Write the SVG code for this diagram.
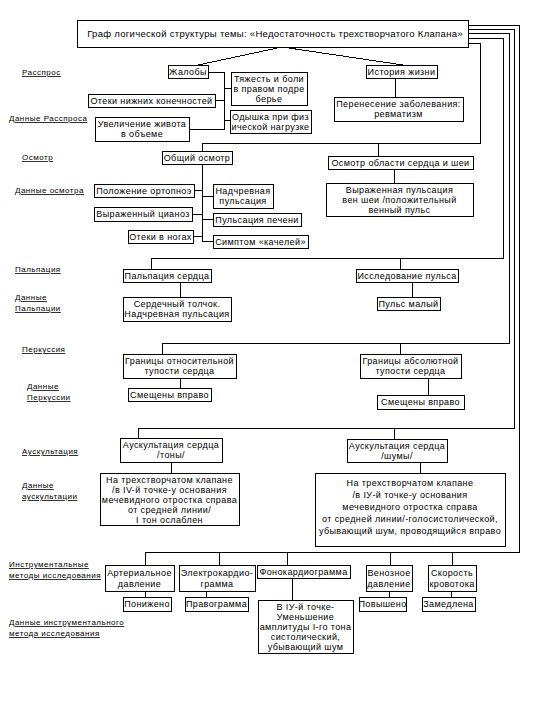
<svg xmlns="http://www.w3.org/2000/svg" width="540" height="720" viewBox="0 0 540 720">
<style>
.b{fill:#fff;stroke:#000;stroke-width:1;shape-rendering:crispEdges}
.t{font-family:"Liberation Sans",Arial,sans-serif;font-size:9px;letter-spacing:0.4px;text-anchor:middle;fill:#000}
.l{font-family:"Liberation Sans",Arial,sans-serif;font-size:8px;letter-spacing:0.5px;fill:#000;text-decoration:underline}
.c line,.c polyline{stroke:#000;stroke-width:1;fill:none;shape-rendering:crispEdges}
</style>
<rect width="540" height="720" fill="#fff"/>
<g id="labels">
<text class="l" x="22" y="75">Расспрос</text>
<text class="l" x="9" y="121">Данные Расспроса</text>
<text class="l" x="22" y="160">Осмотр</text>
<text class="l" x="15" y="193">Данные осмотра</text>
<text class="l" x="15" y="272">Пальпация</text>
<text class="l" x="15" y="300">Данные</text>
<text class="l" x="15" y="311">Пальпации</text>
<text class="l" x="22" y="352">Перкуссия</text>
<text class="l" x="27" y="389">Данные</text>
<text class="l" x="27" y="400">Перкуссии</text>
<text class="l" x="22" y="454">Аускультация</text>
<text class="l" x="22" y="488">Данные</text>
<text class="l" x="22" y="499">аускультации</text>
<text class="l" x="9" y="567">Инструментальные</text>
<text class="l" x="9" y="578">методы исследования</text>
<text class="l" x="9" y="625">Данные инструментального</text>
<text class="l" x="9" y="636">метода исследования</text>
</g>
<g class="c" id="connectors">
<polyline points="282,47 198,65"/>
<polyline points="282,47 403,65"/>
<polyline points="468,43 480,43 480,143 202,143 202,151"/>
<line x1="378" y1="143" x2="378" y2="156"/>
<polyline points="468,38 503,38 503,258 151,258 151,269"/>
<line x1="400" y1="258" x2="400" y2="269"/>
<polyline points="468,33 509,33 509,343 162,343 162,354"/>
<line x1="400" y1="343" x2="400" y2="354"/>
<polyline points="468,29 514,29 514,428 138,428 138,438"/>
<line x1="394" y1="428" x2="394" y2="439"/>
<polyline points="468,25 519,25 519,552 145,552 145,565"/>
<line x1="219" y1="552" x2="219" y2="565"/>
<line x1="287" y1="552" x2="287" y2="565"/>
<line x1="390" y1="552" x2="390" y2="565"/>
<line x1="452" y1="552" x2="452" y2="565"/>
<polyline points="208,72 224,72 224,129 189,129"/>
<line x1="224" y1="88" x2="231" y2="88"/>
<line x1="215" y1="100" x2="224" y2="100"/>
<line x1="224" y1="120" x2="230" y2="120"/>
<line x1="395" y1="78" x2="395" y2="97"/>
<line x1="394" y1="169" x2="394" y2="183"/>
<line x1="202" y1="164" x2="202" y2="241"/>
<line x1="194" y1="190" x2="202" y2="190"/>
<line x1="192" y1="214" x2="202" y2="214"/>
<line x1="193" y1="236" x2="202" y2="236"/>
<line x1="202" y1="196" x2="213" y2="196"/>
<line x1="202" y1="219" x2="213" y2="219"/>
<line x1="202" y1="241" x2="213" y2="241"/>
<line x1="180" y1="282" x2="180" y2="297"/>
<line x1="412" y1="282" x2="412" y2="297"/>
<line x1="180" y1="378" x2="180" y2="388"/>
<line x1="428" y1="378" x2="428" y2="395"/>
<line x1="171" y1="462" x2="171" y2="473"/>
<line x1="420" y1="462" x2="420" y2="473"/>
<line x1="145" y1="591" x2="145" y2="597"/>
<line x1="206" y1="591" x2="206" y2="597"/>
<line x1="292" y1="578" x2="292" y2="600"/>
<line x1="389" y1="591" x2="389" y2="597"/>
<line x1="451" y1="591" x2="451" y2="597"/>
</g>
<g id="title"><rect class="b" x="77" y="20" width="391" height="27"/><text class="t" x="275" y="37" style="font-size:9.5px;letter-spacing:0.3px">Граф логической структуры темы: «Недостаточность трехстворчатого Клапана»</text></g>
<g id="zhaloby"><rect class="b" x="168" y="65" width="40" height="13"/><text class="t" x="188" y="75">Жалобы</text></g>
<g id="tyazhest"><rect class="b" x="231" y="72" width="76" height="33"/><text class="t"><tspan x="269" y="82">Тяжесть и боли</tspan><tspan x="269" y="92">в правом подре</tspan><tspan x="269" y="102">берье</tspan></text></g>
<g id="oteki-nizh"><rect class="b" x="88" y="94" width="127" height="13"/><text class="t" x="151.5" y="104">Отеки нижних конечностей</text></g>
<g id="uvelichenie"><rect class="b" x="95" y="117" width="94" height="24"/><text class="t"><tspan x="142" y="127">Увеличение живота</tspan><tspan x="142" y="137">в объеме</tspan></text></g>
<g id="odyshka"><rect class="b" x="230" y="110" width="81" height="23"/><text class="t"><tspan x="270.5" y="120">Одышка при физ</tspan><tspan x="270.5" y="130">ической нагрузке</tspan></text></g>
<g id="istoriya"><rect class="b" x="366" y="65" width="71" height="13"/><text class="t" x="401.5" y="75">История жизни</text></g>
<g id="perenesenie"><rect class="b" x="334" y="97" width="129" height="24"/><text class="t"><tspan x="398.5" y="107">Перенесение заболевания:</tspan><tspan x="398.5" y="117">ревматизм</tspan></text></g>
<g id="obshiy"><rect class="b" x="162" y="151" width="70" height="13"/><text class="t" x="197" y="161">Общий осмотр</text></g>
<g id="osmotr-oblasti"><rect class="b" x="328" y="156" width="145" height="13"/><text class="t" x="400.5" y="166">Осмотр области сердца и шеи</text></g>
<g id="vyrazh-puls"><rect class="b" x="326" y="183" width="147" height="33"/><text class="t"><tspan x="399.5" y="193">Выраженная пульсация</tspan><tspan x="399.5" y="203">вен шеи /положительный</tspan><tspan x="399.5" y="213">венный пульс</tspan></text></g>
<g id="polozhenie"><rect class="b" x="94" y="184" width="100" height="13"/><text class="t" x="144" y="194">Положение ортопноэ</text></g>
<g id="cianoz"><rect class="b" x="94" y="207" width="98" height="14"/><text class="t" x="143" y="217">Выраженный цианоз</text></g>
<g id="oteki-nogi"><rect class="b" x="128" y="230" width="65" height="13"/><text class="t" x="160.5" y="240">Отеки в ногах</text></g>
<g id="nadchrevnaya"><rect class="b" x="213" y="184" width="60" height="24"/><text class="t"><tspan x="243" y="194">Надчревная</tspan><tspan x="243" y="204">пульсация</tspan></text></g>
<g id="pechen"><rect class="b" x="213" y="213" width="88" height="13"/><text class="t" x="257" y="223">Пульсация печени</text></g>
<g id="kacheli"><rect class="b" x="213" y="235" width="95" height="13"/><text class="t" x="260.5" y="245">Симптом «качелей»</text></g>
<g id="palpaciya"><rect class="b" x="123" y="269" width="88" height="13"/><text class="t" x="167" y="279">Пальпация сердца</text></g>
<g id="tolchok"><rect class="b" x="123" y="297" width="108" height="24"/><text class="t"><tspan x="177" y="307">Сердечный толчок.</tspan><tspan x="177" y="317">Надчревная пульсация</tspan></text></g>
<g id="issled-pulsa"><rect class="b" x="356" y="269" width="102" height="13"/><text class="t" x="407" y="279">Исследование пульса</text></g>
<g id="puls-maly"><rect class="b" x="377" y="297" width="63" height="13"/><text class="t" x="408.5" y="307">Пульс малый</text></g>
<g id="gr-otn"><rect class="b" x="123" y="354" width="113" height="24"/><text class="t"><tspan x="179.5" y="364">Границы относительной</tspan><tspan x="179.5" y="374">тупости сердца</tspan></text></g>
<g id="smesh-1"><rect class="b" x="128" y="388" width="83" height="13"/><text class="t" x="169.5" y="398">Смещены вправо</text></g>
<g id="gr-abs"><rect class="b" x="360" y="354" width="101" height="24"/><text class="t"><tspan x="410.5" y="364">Границы абсолютной</tspan><tspan x="410.5" y="374">тупости сердца</tspan></text></g>
<g id="smesh-2"><rect class="b" x="377" y="395" width="87" height="14"/><text class="t" x="420.5" y="405">Смещены вправо</text></g>
<g id="ausk-tony"><rect class="b" x="120" y="438" width="102" height="24"/><text class="t"><tspan x="171" y="448">Аускультация сердца</tspan><tspan x="171" y="458">/тоны/</tspan></text></g>
<g id="ausk-shumy"><rect class="b" x="347" y="439" width="100" height="23"/><text class="t"><tspan x="397" y="449">Аускультация сердца</tspan><tspan x="397" y="459">/шумы/</tspan></text></g>
<g id="tony-data"><rect class="b" x="100" y="473" width="139" height="52"/><text class="t"><tspan x="169.5" y="483">На трехстворчатом клапане</tspan><tspan x="169.5" y="493">/в IV-й точке-у основания</tspan><tspan x="169.5" y="503">мечевидного отростка справа</tspan><tspan x="169.5" y="513">от средней линии/</tspan><tspan x="169.5" y="523">I тон ослаблен</tspan></text></g>
<g id="shumy-data"><rect class="b" x="315" y="473" width="190" height="73"/><text class="t"><tspan x="410" y="486">На трехстворчатом клапане</tspan><tspan x="410" y="498">/в IУ-й точке-у основания</tspan><tspan x="410" y="510">мечевидного отростка справа</tspan><tspan x="410" y="522">от средней линии/-голосистолической,</tspan><tspan x="410" y="534">убывающий шум, проводящийся вправо</tspan></text></g>
<g id="art"><rect class="b" x="105" y="565" width="69" height="26"/><text class="t"><tspan x="139.5" y="576">Артериальное</tspan><tspan x="139.5" y="587">давление</tspan></text></g>
<g id="ekg"><rect class="b" x="179" y="565" width="76" height="26"/><text class="t"><tspan x="217" y="576">Электрокардио-</tspan><tspan x="217" y="587">грамма</tspan></text></g>
<g id="fkg"><rect class="b" x="257" y="565" width="93" height="13"/><text class="t" x="303.5" y="575">Фонокардиограмма</text></g>
<g id="ven"><rect class="b" x="366" y="565" width="46" height="26"/><text class="t"><tspan x="389" y="576">Венозное</tspan><tspan x="389" y="587">давление</tspan></text></g>
<g id="skor"><rect class="b" x="428" y="565" width="48" height="26"/><text class="t"><tspan x="452" y="576">Скорость</tspan><tspan x="452" y="587">кровотока</tspan></text></g>
<g id="ponizheno"><rect class="b" x="123" y="597" width="48" height="14"/><text class="t" x="147" y="607">Понижено</text></g>
<g id="pravogramma"><rect class="b" x="185" y="597" width="63" height="14"/><text class="t" x="216.5" y="607">Правограмма</text></g>
<g id="fkg-data"><rect class="b" x="258" y="600" width="95" height="53"/><text class="t"><tspan x="305.5" y="610">В IУ-й точке-</tspan><tspan x="305.5" y="620">Уменьшение</tspan><tspan x="305.5" y="630">амплитуды I-го тона</tspan><tspan x="305.5" y="640">систолический,</tspan><tspan x="305.5" y="650">убывающий шум</tspan></text></g>
<g id="povysheno"><rect class="b" x="359" y="597" width="47" height="14"/><text class="t" x="382.5" y="607">Повышено</text></g>
<g id="zamedlena"><rect class="b" x="422" y="597" width="53" height="14"/><text class="t" x="448.5" y="607">Замедлена</text></g>
</svg>
